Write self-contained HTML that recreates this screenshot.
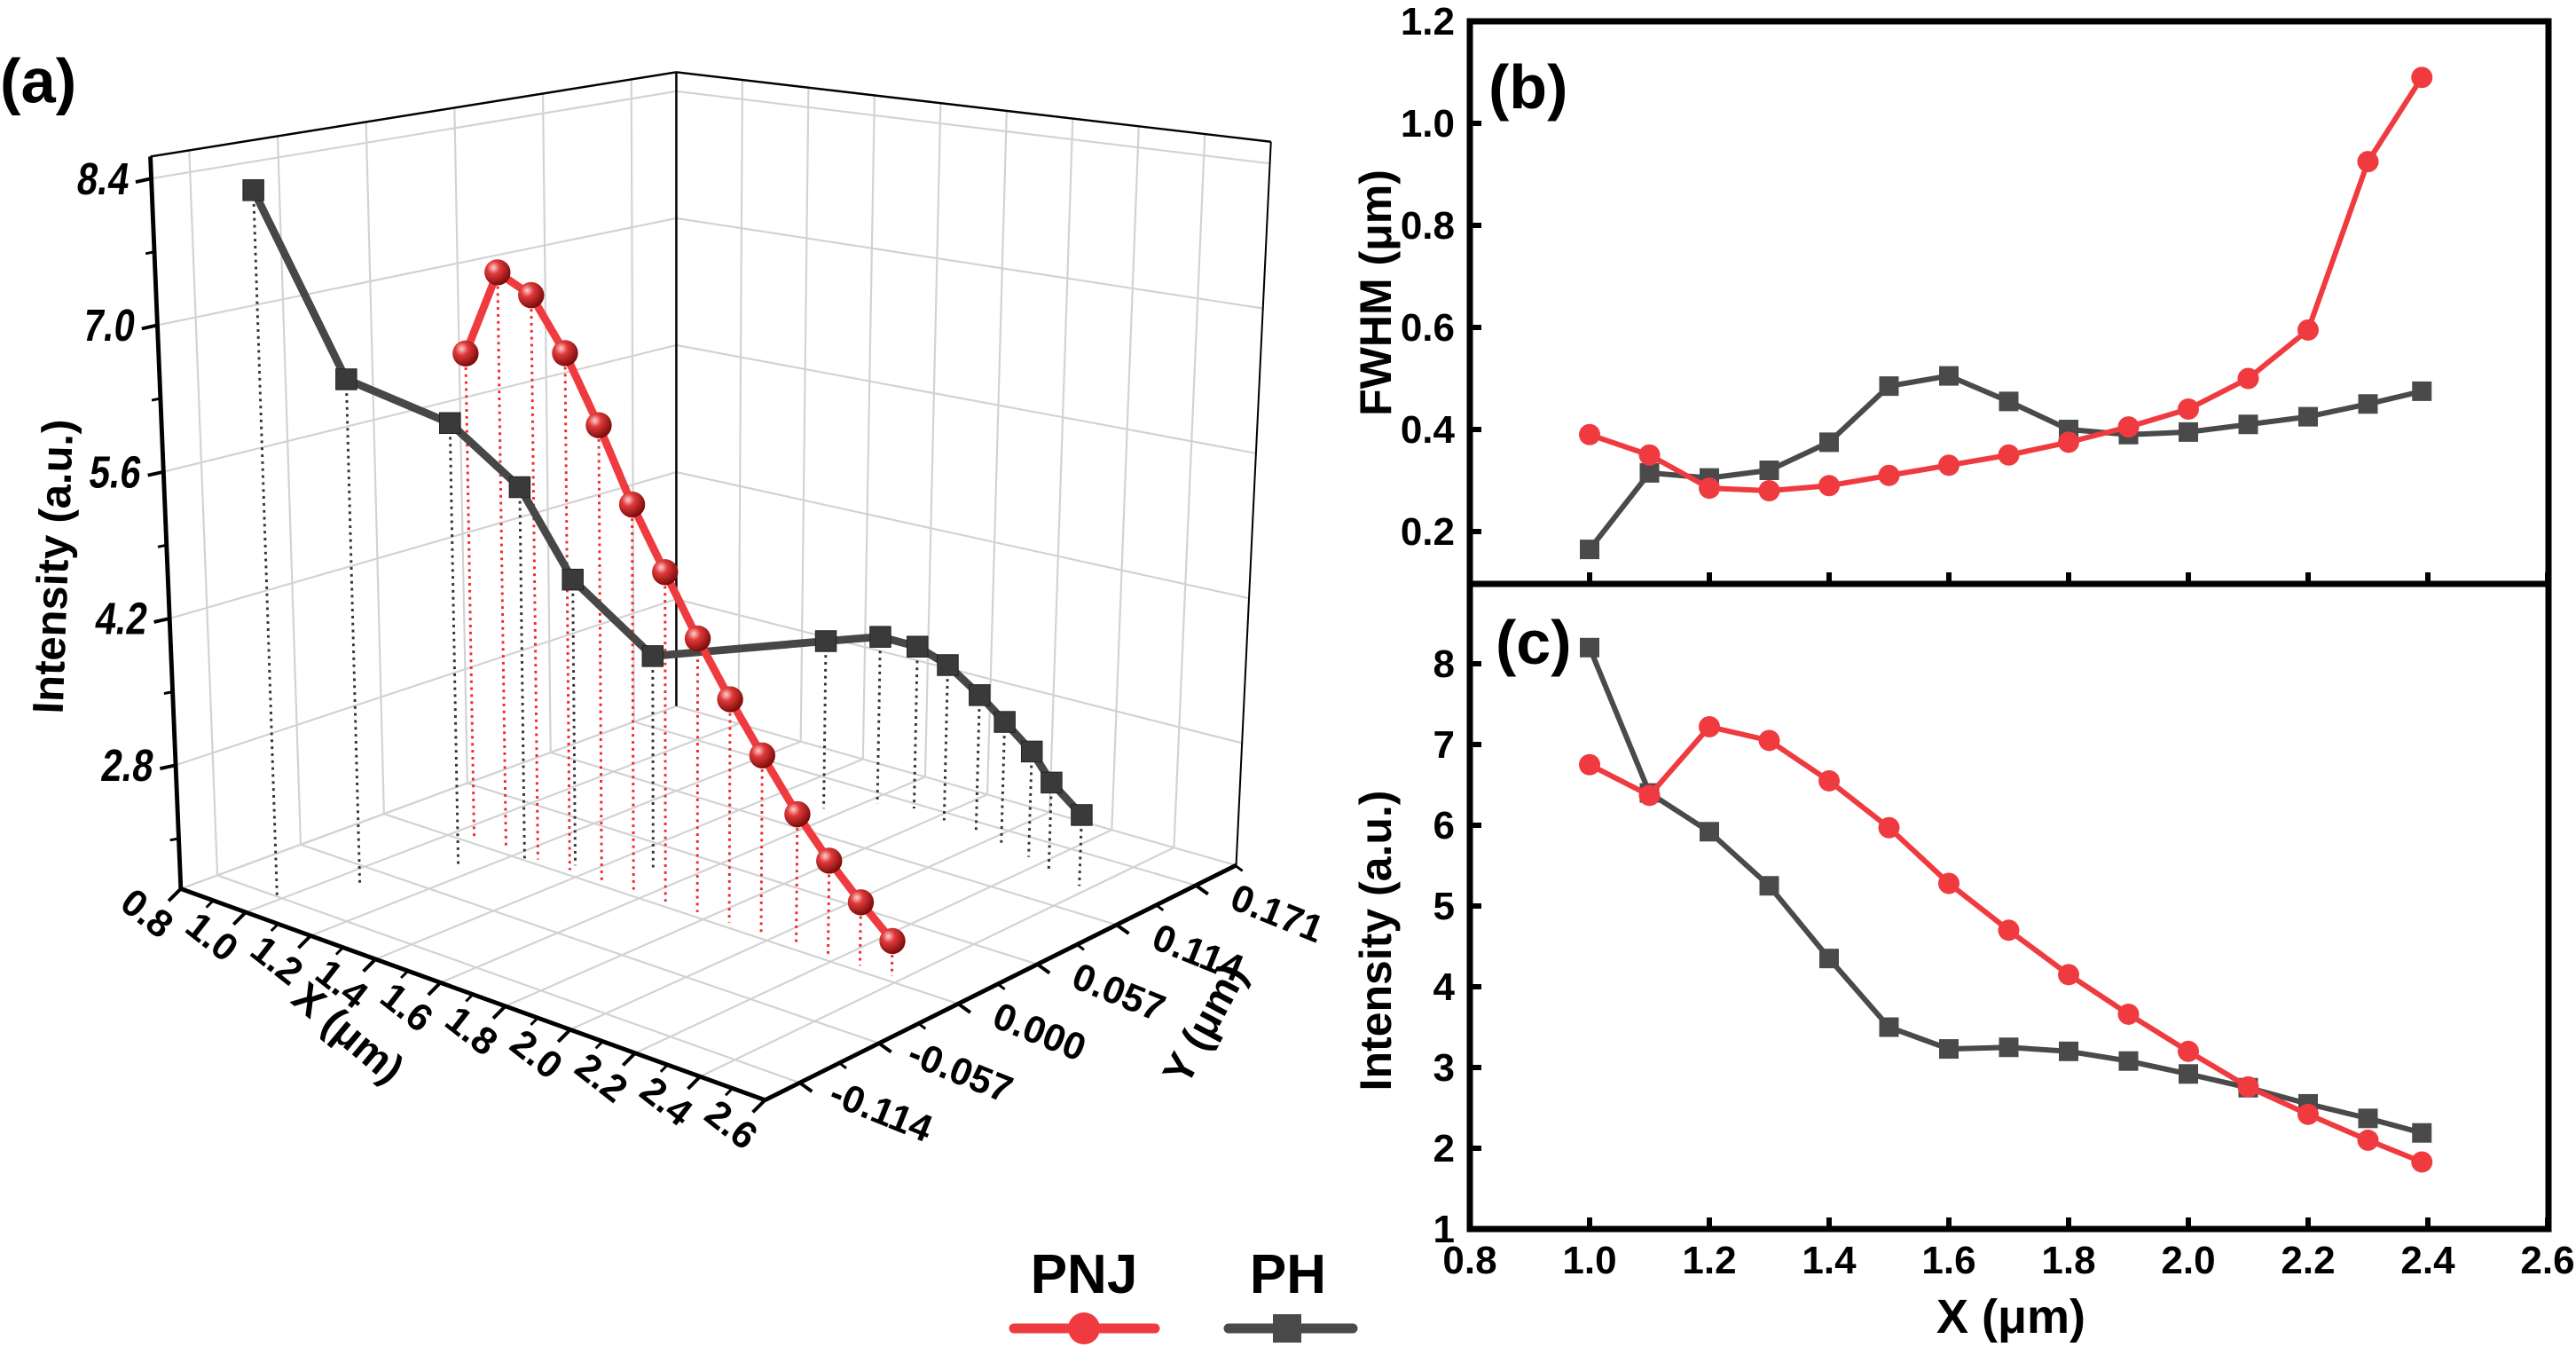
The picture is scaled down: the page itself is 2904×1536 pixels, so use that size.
<!DOCTYPE html>
<html><head><meta charset="utf-8"><style>
html,body{margin:0;padding:0;background:#fff;}
svg{display:block;font-family:"Liberation Sans",Arial,sans-serif;}
</style></head><body>
<svg id="fig" width="2904" height="1536" viewBox="0 0 2904 1536" xmlns="http://www.w3.org/2000/svg">
<defs>
<radialGradient id="sph" cx="0.35" cy="0.32" r="0.7">
<stop offset="0" stop-color="#ffd0d0"/><stop offset="0.35" stop-color="#e03a3a"/><stop offset="1" stop-color="#7a0a0a"/>
</radialGradient>
</defs>
<g id="pa" transform="scale(0.98)"></g>
<g id="pb"></g>
<g id="pc"></g>
<g id="legend"></g>
</svg>
<script>
// ---------- data ----------
const xCats = [1.0,1.1,1.2,1.3,1.4,1.5,1.6,1.7,1.8,1.9,2.0,2.1,2.2,2.3,2.39];
const fwhmPNJ = [0.39,0.35,0.285,0.28,0.29,0.31,0.33,0.35,0.375,0.405,0.44,0.50,0.595,0.925,1.09];
const fwhmPH = [0.165,0.315,0.305,0.32,0.375,0.485,0.505,0.455,0.40,0.39,0.395,0.41,0.425,0.45,0.475];
const intPNJ = [6.75,6.37,7.22,7.05,6.55,5.97,5.28,4.7,4.15,3.66,3.2,2.76,2.42,2.1,1.83];
const intPH = [8.2,6.4,5.92,5.25,4.35,3.5,3.23,3.25,3.2,3.08,2.92,2.75,2.55,2.37,2.19];
const xTicks = ["0.8","1.0","1.2","1.4","1.6","1.8","2.0","2.2","2.4","2.6"];
const fwhmTicks = ["0.2","0.4","0.6","0.8","1.0","1.2"];
const intTicks = ["1","2","3","4","5","6","7","8"];
// 3D panel data
const pnj3dX = [1.06,1.16,1.26,1.36,1.46,1.56,1.66,1.76,1.86,1.96,2.07,2.17,2.27,2.37];
const pnj3dY = [0.005,0.005,0.005,0.005,0.005,0.005,0.005,0.005,0.005,0.005,0.005,0.005,0.005,0.005];
const pnj3dZ = [6.44,7.31,7.15,6.65,6.02,5.33,4.76,4.21,3.72,3.28,2.83,2.49,2.20,1.94];
const ph3dX = [0.98,1.07,1.16,1.25,1.35,1.50,1.55,1.63,1.72,1.83,1.95,2.04,2.15,2.25,2.37];
const ph3dY = [-0.113,-0.076,-0.028,-0.002,0.011,0.032,0.140,0.160,0.166,0.163,0.159,0.157,0.152,0.144,0.139];
const ph3dZ = [8.34,6.48,5.95,5.29,4.41,3.69,3.32,3.32,3.26,3.18,3.00,2.82,2.65,2.48,2.30];
const x3Ticks = ["0.8","1.0","1.2","1.4","1.6","1.8","2.0","2.2","2.4","2.6"];
const y3Ticks = ["-0.114","-0.057","0.000","0.057","0.114","0.171"];
const z3Ticks = ["2.8","4.2","5.6","7.0","8.4"];

const NS="http://www.w3.org/2000/svg";
function mk(parent,tag,attrs,text){const e=document.createElementNS(NS,tag);for(const k in attrs)e.setAttribute(k,attrs[k]);if(text!==undefined)e.textContent=text;parent.appendChild(e);return e;}

// ---------- right panels ----------
const X0=1657, XS=675;
const px=x=>X0+(x-0.8)*XS;
const pyB=v=>599-(v-0.2)*575;
const pyC=v=>1385-(v-1)*91;
const RED="#ef3b3f", GRAY="#4a4a4a";

function series(g,xs,ys,fy,color,shape,name){
  let d="";xs.forEach((x,i)=>{d+=(i?"L":"M")+px(x).toFixed(1)+","+fy(ys[i]).toFixed(1);});
  const p=mk(g,"path",{d:d,fill:"none",stroke:color,"stroke-width":6,"stroke-linejoin":"round"});
  
  
  xs.forEach((x,i)=>{
    let m;
    if(shape==="c") m=mk(g,"circle",{cx:px(x),cy:fy(ys[i]),r:12,fill:color});
    else m=mk(g,"rect",{x:px(x)-11,y:fy(ys[i])-11,width:22,height:22,fill:color});
    
    
  });
}
const pb=document.getElementById("pb"), pc=document.getElementById("pc");
// frames
mk(pb,"rect",{x:1657,y:24,width:1216,height:634,fill:"none",stroke:"#000","stroke-width":7});
mk(pc,"rect",{x:1657,y:658,width:1216,height:727,fill:"none",stroke:"#000","stroke-width":7});
// y ticks b
fwhmTicks.forEach(t=>{const y=pyB(+t);
  mk(pb,"line",{x1:1657,y1:y,x2:1670,y2:y,stroke:"#000","stroke-width":6});
  const tx=mk(pb,"text",{x:1640,y:y+15,"text-anchor":"end","font-size":44,"font-weight":"bold"},t);
  
  
});
intTicks.forEach(t=>{const y=pyC(+t);
  mk(pc,"line",{x1:1657,y1:y,x2:1670,y2:y,stroke:"#000","stroke-width":6});
  const tx=mk(pc,"text",{x:1640,y:y+15,"text-anchor":"end","font-size":44,"font-weight":"bold"},t);
  
  
});
xTicks.forEach(t=>{const x=px(+t);
  mk(pb,"line",{x1:x,y1:658,x2:x,y2:645,stroke:"#000","stroke-width":6});
  mk(pc,"line",{x1:x,y1:1385,x2:x,y2:1372,stroke:"#000","stroke-width":6});
  const tx=mk(pc,"text",{x:x,y:1435,"text-anchor":"middle","font-size":44,"font-weight":"bold"},t);
  
  
});
mk(pc,"text",{x:2267,y:1502,"text-anchor":"middle","font-size":54,"font-weight":"bold"},"X (μm)");
mk(pb,"text",{x:0,y:0,transform:"translate(1568,330) rotate(-90)","text-anchor":"middle","font-size":50,"font-weight":"bold"},"FWHM (μm)");
mk(pc,"text",{x:0,y:0,transform:"translate(1568,1060) rotate(-90)","text-anchor":"middle","font-size":50,"font-weight":"bold"},"Intensity (a.u.)");
mk(pb,"text",{x:1678,y:122,"font-size":70,"font-weight":"bold"},"(b)");
mk(pc,"text",{x:1686,y:748,"font-size":70,"font-weight":"bold"},"(c)");
series(pb,xCats,fwhmPH,pyB,GRAY,"s","fwhm-ph");
series(pb,xCats,fwhmPNJ,pyB,RED,"c","fwhm-pnj");
series(pc,xCats,intPH,pyC,GRAY,"s","intensity-ph");
series(pc,xCats,intPNJ,pyC,RED,"c","intensity-pnj");

// ---------- legend ----------
const lg=document.getElementById("legend");
mk(lg,"text",{x:1222,y:1457,"text-anchor":"middle","font-size":62,"font-weight":"bold"},"PNJ");
mk(lg,"line",{x1:1143,y1:1497,x2:1302,y2:1497,stroke:RED,"stroke-width":11,"stroke-linecap":"round"});
mk(lg,"circle",{cx:1222,cy:1497,r:18,fill:RED});
mk(lg,"text",{x:1452,y:1457,"text-anchor":"middle","font-size":62,"font-weight":"bold"},"PH");
mk(lg,"line",{x1:1385,y1:1497,x2:1525,y2:1497,stroke:GRAY,"stroke-width":11,"stroke-linecap":"round"});
mk(lg,"rect",{x:1435,y:1481,width:32,height:32,fill:GRAY});

// ---------- 3D panel ----------
const pa=document.getElementById("pa");
const Lc=[208,1022],Fc=[880,1265],Bc=[778,812],Rc=[1422,995];
const hL=[-35,-842],hF=[5,-945],hB=[0,-729],hR=[40,-832];
const XMIN=0.8,XMAX=2.6,YMIN=-0.139,YMAX=0.200,ZMIN=1.62,ZMAX=8.61;
function bil(a,b,c,d,u,v,k){return a[k]*(1-u)*(1-v)+b[k]*u*(1-v)+c[k]*(1-u)*v+d[k]*u*v;}
function P(x,y,z){
  const u=(x-XMIN)/(XMAX-XMIN),v=(y-YMIN)/(YMAX-YMIN),w=(z-ZMIN)/(ZMAX-ZMIN);
  return [bil(Lc,Fc,Bc,Rc,u,v,0)+w*bil(hL,hF,hB,hR,u,v,0), bil(Lc,Fc,Bc,Rc,u,v,1)+w*bil(hL,hF,hB,hR,u,v,1)];
}
function ln(g,a,b,attrs){return mk(g,"line",Object.assign({x1:a[0],y1:a[1],x2:b[0],y2:b[1]},attrs));}
const grid={stroke:"#d2d2d2","stroke-width":2.2};
const gg=mk(pa,"g",{});


// floor grid
x3Ticks.forEach(t=>{ln(gg,P(+t,YMIN,ZMIN),P(+t,YMAX,ZMIN),grid);});
y3Ticks.forEach(t=>{ln(gg,P(XMIN,+t,ZMIN),P(XMAX,+t,ZMIN),grid);});
// left wall (x=XMIN)
y3Ticks.forEach(t=>{ln(gg,P(XMIN,+t,ZMIN),P(XMIN,+t,ZMAX),grid);});
z3Ticks.forEach(t=>{ln(gg,P(XMIN,YMIN,+t),P(XMIN,YMAX,+t),grid);ln(gg,P(XMIN,YMAX,+t),P(XMAX,YMAX,+t),grid);});
// right wall (y=YMAX)
x3Ticks.forEach(t=>{ln(gg,P(+t,YMAX,ZMIN),P(+t,YMAX,ZMAX),grid);});
ln(gg,P(XMIN,YMAX,ZMIN),P(XMAX,YMAX,ZMIN),grid);
ln(gg,P(XMIN,YMIN,ZMIN),P(XMIN,YMAX,ZMIN),grid);
// box edges
const edge={stroke:"#000","stroke-width":2.5};
const be=mk(pa,"g",{});


ln(be,P(XMIN,YMIN,ZMAX),P(XMIN,YMAX,ZMAX),edge);
ln(be,P(XMIN,YMAX,ZMAX),P(XMAX,YMAX,ZMAX),edge);
ln(be,P(XMIN,YMAX,ZMIN),P(XMIN,YMAX,ZMAX),edge);
ln(be,P(XMAX,YMAX,ZMIN),P(XMAX,YMAX,ZMAX),{stroke:"#000","stroke-width":2});
// axes
const ax={stroke:"#000","stroke-width":5};
ln(be,P(XMIN,YMIN,ZMIN),P(XMIN,YMIN,ZMAX),ax);
ln(be,P(XMIN,YMIN,ZMIN),P(XMAX,YMIN,ZMIN),ax);
ln(be,P(XMAX,YMIN,ZMIN),P(XMAX,YMAX,ZMIN),ax);
// z ticks & labels
z3Ticks.forEach(t=>{const p=P(XMIN,YMIN,+t);
  ln(be,p,[p[0]-18,p[1]+4],{stroke:"#000","stroke-width":4});
  const tx=mk(pa,"text",{x:0,y:0,transform:`translate(${p[0]-28},${p[1]+18}) skewX(-8) scale(0.82,1)`,"text-anchor":"end","font-size":52,"font-weight":"bold"},t);
  
  
  const pm=P(XMIN,YMIN,+t-0.7);
  if(+t-0.7>ZMIN) ln(be,pm,[pm[0]-10,pm[1]+2],{stroke:"#000","stroke-width":3});
});
{const pm=P(XMIN,YMIN,8.4+0.0);}
// x ticks & labels
x3Ticks.forEach((t,i)=>{const p=P(+t,YMIN,ZMIN);
  ln(be,p,[p[0]-14,p[1]+14],{stroke:"#000","stroke-width":4});
  if(i<x3Ticks.length-1){const q=P(+t+0.1,YMIN,ZMIN);ln(be,q,[q[0]-8,q[1]+8],{stroke:"#000","stroke-width":3});}
  const tx=mk(pa,"text",{x:0,y:0,transform:`translate(${p[0]-48},${p[1]+40}) rotate(38)`,"text-anchor":"middle","font-size":44,"font-weight":"bold"},t);
  
  
});
mk(pa,"text",{x:0,y:0,transform:"translate(390,1200) rotate(40)","text-anchor":"middle","font-size":48,"font-weight":"bold"},"X (μm)");
// y ticks & labels
y3Ticks.forEach((t,i)=>{const p=P(XMAX,+t,ZMIN);
  ln(be,p,[p[0]+14,p[1]+10],{stroke:"#000","stroke-width":4});
  const q=P(XMAX,+t+0.0285,ZMIN);ln(be,q,[q[0]+8,q[1]+6],{stroke:"#000","stroke-width":3});
  const tx=mk(pa,"text",{x:0,y:0,transform:`translate(${p[0]+88},${p[1]+46}) rotate(22)`,"text-anchor":"middle","font-size":44,"font-weight":"bold"},t);
  
  
});
mk(pa,"text",{x:0,y:0,transform:"translate(1400,1185) rotate(-62)","text-anchor":"middle","font-size":48,"font-weight":"bold"},"Y (μm)");
mk(pa,"text",{x:0,y:0,transform:"translate(78,652) rotate(-88)","text-anchor":"middle","font-size":50,"font-weight":"bold"},"Intensity (a.u.)");
mk(pa,"text",{x:0,y:118,"font-size":72,"font-weight":"bold"},"(a)");
// drop lines
function drops(xs,ys,zs,color,name){
  xs.forEach((x,i)=>{const a=P(x,ys[i],zs[i]),b=P(x,ys[i],ZMIN);
    const l=ln(pa,a,b,{stroke:color,"stroke-width":3,"stroke-dasharray":"3 5"});
    
    
  });
}
drops(ph3dX,ph3dY,ph3dZ,"#333","ph3d");
drops(pnj3dX,pnj3dY,pnj3dZ,"#ee2a2a","pnj3d");
function path3(xs,ys,zs){let d="";xs.forEach((x,i)=>{const p=P(x,ys[i],zs[i]);d+=(i?"L":"M")+p[0].toFixed(1)+","+p[1].toFixed(1);});return d;}
const phl=mk(pa,"path",{d:path3(ph3dX,ph3dY,ph3dZ),fill:"none",stroke:"#474747","stroke-width":9,"stroke-linejoin":"round"});


ph3dX.forEach((x,i)=>{const p=P(x,ph3dY[i],ph3dZ[i]);
  const r=mk(pa,"rect",{x:p[0]-12,y:p[1]-12,width:24,height:24,fill:"#3a3a3a",stroke:"#222","stroke-width":1});
  
  
});
const pnl=mk(pa,"path",{d:path3(pnj3dX,pnj3dY,pnj3dZ),fill:"none",stroke:"#ef3b3f","stroke-width":9,"stroke-linejoin":"round"});


pnj3dX.forEach((x,i)=>{const p=P(x,pnj3dY[i],pnj3dZ[i]);
  const c=mk(pa,"circle",{cx:p[0],cy:p[1],r:15,fill:"url(#sph)"});
  
  
});
</script>
</body></html>
